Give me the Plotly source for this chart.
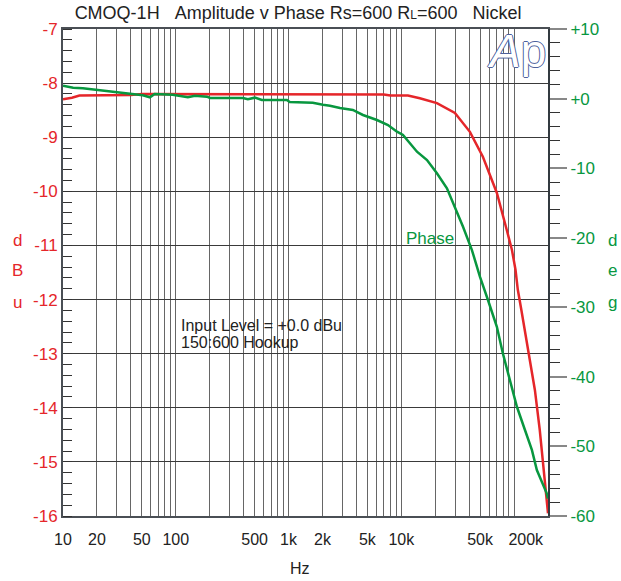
import math
import plotly.graph_objects as go

# ---- data ----
amp_freq = [10, 12, 14, 20, 40, 50, 100, 500, 1000, 2300, 6000, 7000, 8000, 11450,
            14600, 20700, 29900, 40600, 52900, 70400, 86300, 95700, 103000, 108000,
            116000, 128000, 138000, 153000, 169000, 184000, 200000]
amp_dbu = [-8.30, -8.27, -8.23, -8.23, -8.22, -8.20, -8.20, -8.20, -8.20, -8.20, -8.20,
           -8.21, -8.23, -8.23, -8.28, -8.37, -8.55, -8.90, -9.36, -10.03, -10.72,
           -11.08, -11.45, -11.82, -12.19, -12.69, -13.12, -13.67, -14.41, -15.15, -15.95]

phase_freq = [10, 12.3, 15, 20, 30, 42, 51, 59, 65, 94, 128, 148, 189, 201, 394, 436,
              503, 580, 966, 1026, 1640, 2020, 2330, 2860, 3720, 4570, 6080, 7620,
              9160, 10350, 13780, 16900, 20700, 25400, 29900, 35200, 42300, 49800,
              58700, 70400, 79500, 91900, 106000, 124700, 143900, 159300, 194400, 200000]
phase_deg = [1.85, 1.56, 1.47, 1.23, 0.84, 0.66, 0.47, 0.18, 0.66, 0.56, 0.18, 0.41,
             0.27, 0.08, 0.08, -0.10, 0.13, -0.20, -0.20, -0.50, -0.60, -0.88, -1.02,
             -1.35, -1.64, -2.36, -3.08, -3.80, -4.76, -5.24, -7.64, -8.83, -10.74,
             -12.9, -15.55, -18.4, -21.77, -25.6, -28.95, -32.8, -36.6, -40.45, -44.3,
             -47.6, -50.5, -53.4, -56.7, -57.5]

x_label_vals = [10, 20, 50, 100, 500, 1000, 2000, 5000, 10000, 50000, 200000]
x_label_text = ["10", "20", "50", "100", "500", "1k", "2k", "5k", "10k", "50k",
                "200k" + "\u00a0" * 10]

left_vals = [-7, -8, -9, -10, -11, -12, -13, -14, -15, -16]
left_text = ["-7", "-8", "-9", "-10", "-11", "-12", "-13", "-14", "-15", "-16"]
right_vals = [10, 0, -10, -20, -30, -40, -50, -60]
right_text = ["+10", "+0", "-10", "-20", "-30", "-40", "-50", "-60"]

RED = "#e5262a"
GREEN = "#08973f"
FONT = "Liberation Sans, Arial, sans-serif"

# plot-area geometry (pixels) used to place free text
L, R, T, B = 63, 548, 29, 516
PW, PH = R - L, B - T


def px(xp):
    return (xp - L) / PW


def py(yp):
    return 1 - (yp - T) / PH


# gridline positions 1..9 per decade
grid_vals = []
for dec in [10, 100, 1000, 10000, 100000]:
    for m in range(1, 10):
        v = dec * m
        if v <= 200000:
            grid_vals.append(v)
grid_text = [x_label_text[x_label_vals.index(v)] if v in x_label_vals else ""
             for v in grid_vals]

fig = go.Figure()
fig.add_trace(go.Scatter(x=phase_freq, y=phase_deg, mode="lines", yaxis="y2",
                         line=dict(color=GREEN, width=2.5), showlegend=False,
                         hoverinfo="skip"))
fig.add_trace(go.Scatter(x=amp_freq, y=amp_dbu, mode="lines", yaxis="y",
                         line=dict(color=RED, width=2.5), showlegend=False,
                         hoverinfo="skip"))

fig.update_layout(
    width=621, height=581,
    margin=dict(l=L, r=621 - R, t=T, b=581 - B, autoexpand=False),
    paper_bgcolor="white", plot_bgcolor="white",
    font=dict(family=FONT, size=16, color="#222"),
    title=dict(text="CMOQ-1H\u00a0\u00a0\u00a0Amplitude v Phase Rs=600 R<span style='font-size:12px'>L</span>=600\u00a0\u00a0\u00a0Nickel",
               x=0.48, xanchor="center", y=1 - 13 / 581, yanchor="middle",
               font=dict(family=FONT, size=18, color="#222")),
    xaxis=dict(type="log", range=[1, math.log10(200000)], automargin=False,
               tickmode="array", tickvals=grid_vals, ticktext=grid_text,
               showgrid=True, gridcolor="#666", gridwidth=1,
               ticks="outside", ticklen=8, tickcolor="rgba(0,0,0,0)",
               tickfont=dict(size=16, color="#222"),
               showline=True, linecolor="#4a4f55", linewidth=2, mirror=True,
               zeroline=False),
    yaxis=dict(range=[-16, -7], tickmode="array", tickvals=left_vals, ticktext=left_text,
               automargin=False,
               showgrid=True, gridcolor="#3a3a3a", gridwidth=1,
               ticks="", tickfont=dict(size=17, color=RED),
               showline=True, linecolor="#4a4f55", linewidth=2,
               minor=dict(dtick=0.2, ticks="inside", ticklen=9, tickcolor="#333",
                          tickwidth=1, showgrid=False),
               zeroline=False),
    yaxis2=dict(range=[-60, 10], overlaying="y", side="right", automargin=False,
                tickmode="array", tickvals=right_vals, ticktext=right_text,
                showgrid=False, ticks="outside", ticklen=17, tickcolor="#888",
                tickwidth=2, tickfont=dict(size=17, color=GREEN),
                showline=True, linecolor="#333a40", linewidth=2,
                minor=dict(dtick=2, ticks="outside", ticklen=10, tickcolor="#333",
                           tickwidth=1, showgrid=False),
                zeroline=False),
)

ann = []
for t, yy in zip(["d", "B", "u"], [240, 270, 302]):
    ann.append(dict(text=t, x=px(17), y=py(yy), xref="paper", yref="paper",
                    showarrow=False, font=dict(size=17, color=RED),
                    xanchor="center", yanchor="middle"))
for t, yy in zip(["d", "e", "g"], [240, 270, 302]):
    ann.append(dict(text=t, x=px(612), y=py(yy), xref="paper", yref="paper",
                    showarrow=False, font=dict(size=17, color=GREEN),
                    xanchor="center", yanchor="middle"))
ann.append(dict(text="Hz", x=px(300), y=py(568), xref="paper", yref="paper",
                showarrow=False, xanchor="center", yanchor="middle",
                font=dict(size=16, color="#222")))
ann.append(dict(text="Input Level = +0.0 dBu", x=px(179), y=py(325),
                xref="paper", yref="paper", showarrow=False,
                xanchor="left", yanchor="middle", font=dict(size=16, color="#222")))
ann.append(dict(text="150:600 Hookup", x=px(179), y=py(342),
                xref="paper", yref="paper", showarrow=False,
                xanchor="left", yanchor="middle", font=dict(size=16, color="#222")))
ann.append(dict(text="Phase", x=px(430), y=py(238),
                xref="paper", yref="paper", showarrow=False,
                xanchor="center", yanchor="middle", font=dict(size=17, color=GREEN)))
shadow = "1px 0 0 #4d619c, -1px 0 0 #4d619c, 0 1px 0 #4d619c, 0 -1px 0 #4d619c"
ann.append(dict(text="<i>A</i>p", x=px(516), y=py(51),
                xref="paper", yref="paper", showarrow=False,
                xanchor="center", yanchor="middle",
                font=dict(size=46, color="white", family=FONT, shadow=shadow)))
fig.update_layout(annotations=ann)

fig.write_html("out.html", config={"displayModeBar": False},
               post_script="document.body.style.margin='0px';")
